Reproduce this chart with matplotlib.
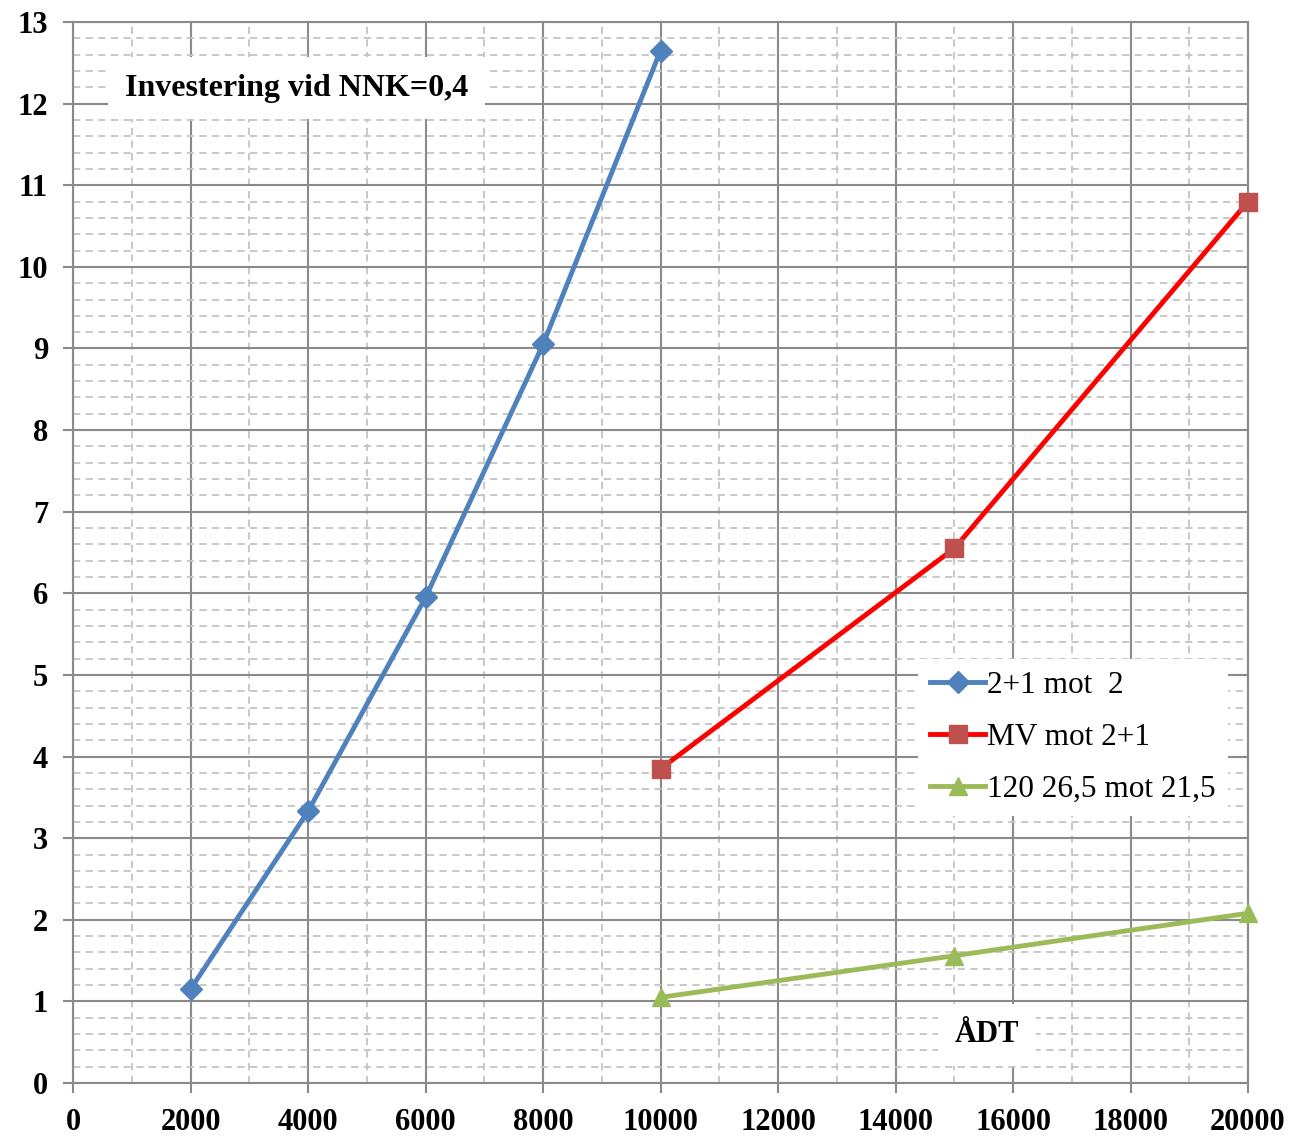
import matplotlib
matplotlib.use("Agg")
from matplotlib import pyplot as plt
from matplotlib.ticker import MultipleLocator

# data
x_blue = [2000, 4000, 6000, 8000, 10000]
y_blue = [1.15, 3.33, 5.95, 9.05, 12.65]

x_red = [10000, 15000, 20000]
y_red = [3.85, 6.55, 10.8]

x_green = [10000, 15000, 20000]
y_green = [1.05, 1.56, 2.08]

labels = ["2+1 mot  2", "MV mot 2+1", "120 26,5 mot 21,5"]
title_text = "Investering vid NNK=0,4"
xlabel_text = "ÅDT"

plt.rcParams['font.family'] = ['Liberation Serif', 'DejaVu Serif']

fig = plt.figure(figsize=(12.93, 11.41), dpi=100)
ax = fig.add_axes([0.0565, 0.0508, 0.9087, 0.9299])

ax.plot(x_blue, y_blue, color="#4F81BD", lw=3.5, marker="D", markersize=11,
        markerfacecolor="#4F81BD", markeredgecolor="#4F81BD", label=labels[0],
        zorder=3, clip_on=False)
ax.plot(x_red, y_red, color="#FF0000", lw=3.5, marker="s", markersize=13.5,
        markerfacecolor="#C0504D", markeredgecolor="#C0504D", label=labels[1],
        zorder=3, clip_on=False)
ax.plot(x_green, y_green, color="#9BBB59", lw=3.5, marker="^", markersize=13.5,
        markerfacecolor="#9BBB59", markeredgecolor="#9BBB59", label=labels[2],
        zorder=3, clip_on=False)

ax.set_xlim(0, 20000)
ax.set_ylim(0, 13)
ax.xaxis.set_major_locator(MultipleLocator(2000))
ax.xaxis.set_minor_locator(MultipleLocator(1000))
ax.yaxis.set_major_locator(MultipleLocator(1))
ax.yaxis.set_minor_locator(MultipleLocator(0.2))

ax.set_axisbelow(True)
ax.grid(which="major", color="#8a8a8a", lw=1.5, linestyle="-")
ax.grid(which="minor", color="#c4c4c4", lw=1.3, linestyle=(0, (4, 3)))

for s in ax.spines.values():
    s.set_color("#8a8a8a")
    s.set_linewidth(1.5)

ax.tick_params(which="major", direction="out", length=7, width=1.5, color="#8a8a8a",
               labelsize=22, pad=11)
ax.tick_params(which="minor", length=0)
for lab in ax.get_xticklabels() + ax.get_yticklabels():
    lab.set_fontweight("bold")

ax.text(3800, 12.19, title_text, fontsize=23, fontweight="bold", ha="center", va="center",
        bbox=dict(facecolor="white", edgecolor="none", pad=12), zorder=4)
ax.text(15550, 0.59, xlabel_text, fontsize=22, fontweight="bold", ha="center", va="center",
        bbox=dict(facecolor="white", edgecolor="none", pad=12), zorder=4)

leg = ax.legend(loc="upper left", bbox_to_anchor=(0.719, 0.400), fontsize=22.5,
                frameon=True, fancybox=False, handlelength=1.75, handletextpad=0.05,
                labelspacing=0.73, borderpad=0.4, borderaxespad=0)
leg.get_frame().set_facecolor("white")
leg.get_frame().set_edgecolor("none")
leg.get_frame().set_alpha(1)

fig.savefig("out.png", dpi=100)
